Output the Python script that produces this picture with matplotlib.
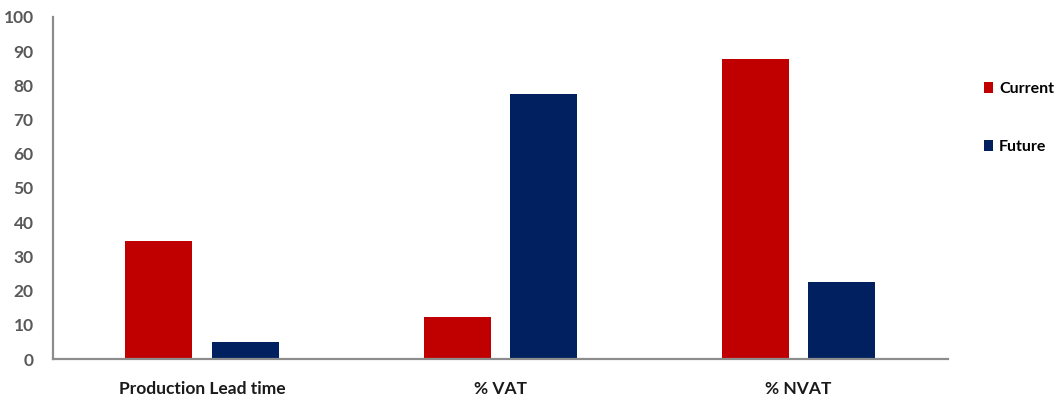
import numpy as np
import matplotlib.pyplot as plt

plt.rcParams['font.family'] = ['Lato', 'DejaVu Sans']

categories = ['Production Lead time', '% VAT', '% NVAT']
current = [34.5, 12.3, 87.7]
future = [5.0, 77.5, 22.5]
series_names = ['Current', 'Future']
y_ticks = [0, 10, 20, 30, 40, 50, 60, 70, 80, 90, 100]

RED = '#C00000'
NAVY = '#002060'
AXIS_GREY = '#8C8C8C'

fig = plt.figure(figsize=(10.63, 4.03), dpi=100)
ax = fig.add_axes([0.0499, 0.109, 0.8415, 0.849])

x = np.arange(len(categories))
WIDTH = 0.225
ax.bar(x - 0.145, current, width=WIDTH, color=RED, label=series_names[0])
ax.bar(x + 0.145, future, width=WIDTH, color=NAVY, label=series_names[1])

ax.set_xlim(-0.5, len(categories) - 0.5)
ax.set_ylim(0, 100)
ax.set_yticks(y_ticks)
ax.set_xticks(x)
ax.set_xticklabels(categories, fontsize=12.5, fontweight='bold', color='#1a1a1a')
ax.tick_params(axis='y', length=0, pad=14, labelsize=12.5, labelcolor='#595959')
ax.tick_params(axis='x', length=0, pad=16)
for lbl in ax.get_yticklabels():
    lbl.set_fontweight('bold')

for side in ['top', 'right']:
    ax.spines[side].set_visible(False)
for side in ['left', 'bottom']:
    ax.spines[side].set_color(AXIS_GREY)
    ax.spines[side].set_linewidth(1.6)

leg = fig.legend(loc='upper left', bbox_to_anchor=(0.912, 0.832), frameon=False,
                 handlelength=0.6, handleheight=0.7, handletextpad=0.35,
                 labelspacing=2.75, prop={'weight': 'bold', 'size': 11.5})

fig.savefig('out.png', dpi=100)
